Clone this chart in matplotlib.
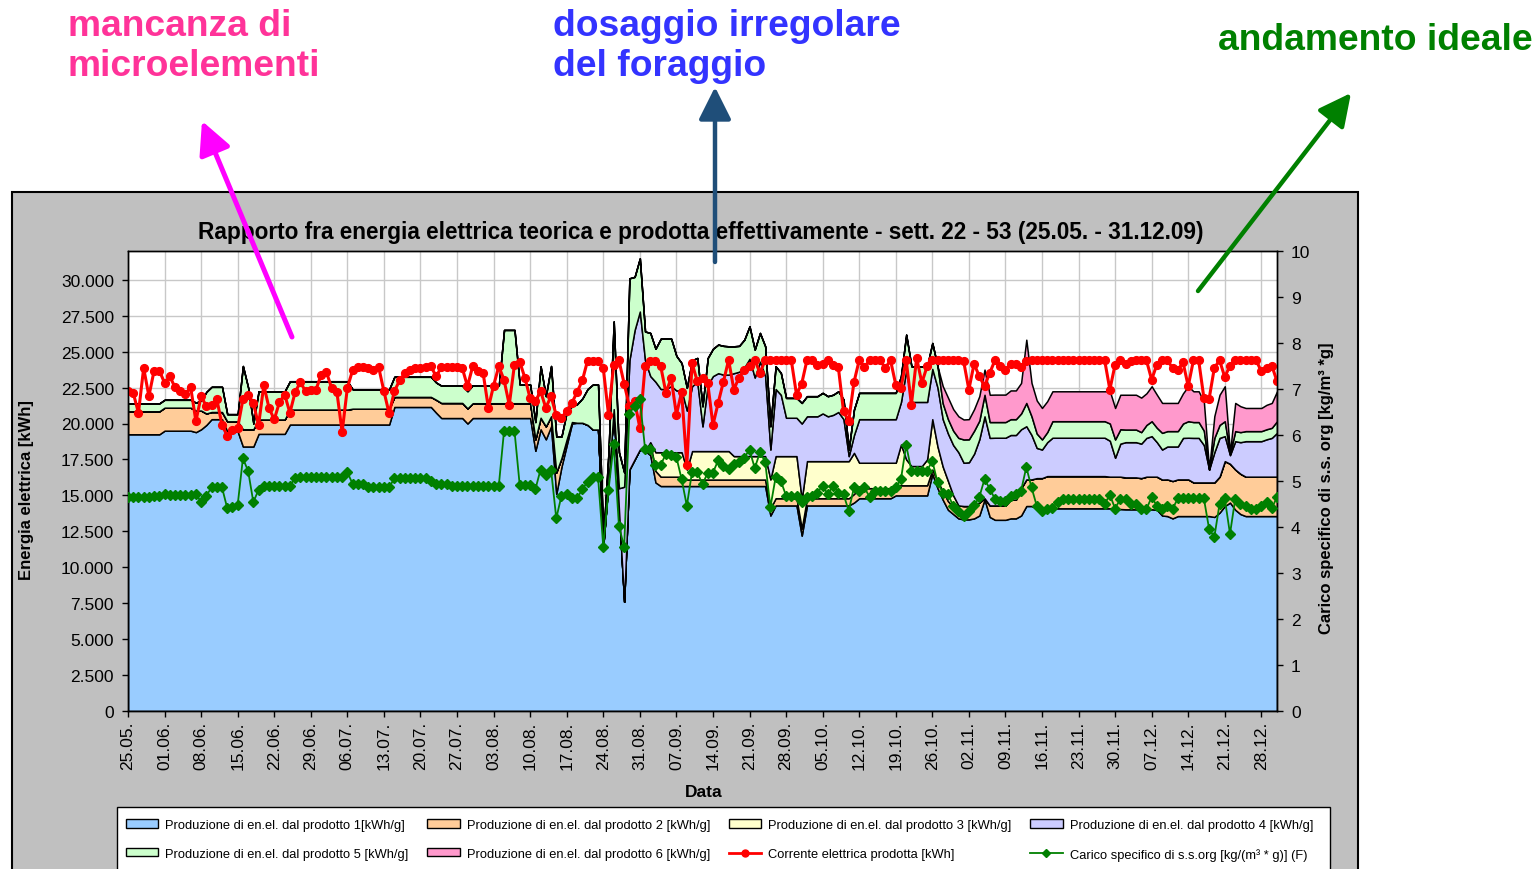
import numpy as np
import pandas as pd
import matplotlib
matplotlib.use("Agg")
import matplotlib.pyplot as plt
import matplotlib.dates as mdates
from matplotlib.patches import Rectangle, Patch, FancyArrowPatch
from matplotlib.lines import Line2D
from matplotlib.ticker import FuncFormatter

plt.rcParams['font.family'] = ['Liberation Sans', 'DejaVu Sans']

# ---------------- data (daily, 25.05.2009 - 31.12.2009) ----------------
start_date = "2009-05-25"
end_date = "2009-12-31"

prod1 = [19250, 19250, 19250, 19250, 19250, 19250, 19250, 19500, 19500, 19500, 19500, 19500, 19500, 19400, 19600, 19900, 20300, 20300, 20300, 19450,
         19450, 19450, 18400, 18400, 18400, 19280, 19280, 19280, 19280, 19280, 19280, 19930, 19930, 19930, 19930, 19930, 19930, 19930, 19930, 19930,
         19930, 19930, 19930, 19930, 19930, 19930, 19930, 19930, 19930, 19930, 19930, 21150, 21150, 21150, 21150, 21150, 21150, 21150, 21150, 20750,
         20380, 20380, 20380, 20380, 20380, 20000, 20380, 20380, 20380, 20380, 20380, 20380, 20380, 20380, 20380, 20380, 20380, 20380, 18100, 19600,
         18900, 19800, 15100, 17000, 18500, 20000, 20050, 20050, 19900, 19580, 19580, 11500, 16000, 21000, 14000, 7600, 16800, 17500, 18190, 18100,
         17800, 15900, 15650, 15650, 15650, 15650, 15650, 15650, 15650, 15650, 15650, 15650, 15650, 15650, 15650, 15650, 15650, 15650, 15650, 15650,
         15650, 15650, 15650, 13600, 14300, 14300, 14300, 14300, 14300, 12200, 14300, 14300, 14300, 14300, 14300, 14300, 14300, 14300, 14300, 14500,
         14800, 14800, 14800, 14800, 14800, 14800, 14800, 15000, 15000, 15000, 15000, 15000, 15000, 15000, 16500, 15500, 14700, 14000, 13700, 13400,
         13330, 13330, 13400, 13600, 14720, 13500, 13300, 13300, 13300, 13400, 13400, 13600, 14260, 14260, 14100, 14030, 14100, 14100, 14100, 14100,
         14100, 14100, 14100, 14100, 14100, 14100, 14100, 14100, 14100, 14000, 14050, 14030, 14030, 14030, 13900, 14000, 14030, 14000, 13600, 13560,
         13400, 13560, 13560, 13560, 13560, 13560, 13560, 13560, 13500, 13800, 14260, 14500, 14000, 13700, 13560, 13560, 13560, 13560, 13560, 13560,
         13560]

prod2 = [1600, 1600, 1600, 1600, 1600, 1600, 1600, 1600, 1600, 1600, 1600, 1600, 1600, 1500, 1300, 800, 500, 500, 500, 700,
         700, 700, 1200, 1200, 1200, 1000, 1000, 1000, 1000, 1000, 1000, 1040, 1040, 1040, 1040, 1040, 1040, 1040, 1040, 1040,
         1040, 1040, 1040, 1100, 1100, 1100, 1100, 1100, 1100, 1100, 1100, 700, 700, 700, 700, 700, 700, 700, 700, 900,
         1050, 1050, 1050, 1050, 1050, 1050, 1030, 1030, 1030, 1030, 1030, 1030, 1030, 1030, 1030, 1030, 1030, 1030, 800, 800,
         900, 700, 1500, 600, 400, 100, 0, 0, 0, 0, 0, 0, 0, 0, 0, 0, 0, 0, 0, 0,
         900, 800, 650, 650, 650, 650, 650, 450, 450, 450, 450, 450, 450, 450, 450, 450, 450, 450, 450, 450,
         450, 450, 450, 500, 500, 500, 500, 500, 500, 500, 500, 500, 500, 500, 500, 500, 500, 500, 500, 600,
         700, 700, 700, 700, 700, 700, 700, 700, 700, 700, 700, 700, 700, 700, 300, 500, 600, 600, 500, 900,
         930, 930, 900, 900, 80, 800, 1000, 1000, 1000, 1300, 1300, 1900, 1850, 1850, 2100, 2170, 2240, 2240, 2240, 2240,
         2240, 2240, 2240, 2240, 2240, 2240, 2240, 2240, 2200, 2300, 2250, 2220, 2220, 2220, 2300, 2300, 2270, 2300, 2500, 2550,
         2600, 2550, 2550, 2550, 2340, 2340, 2340, 2340, 2400, 2500, 3120, 2700, 2800, 2800, 2740, 2740, 2740, 2740, 2740, 2740,
         2740]

prod3 = [0, 0, 0, 0, 0, 0, 0, 0, 0, 0, 0, 0, 0, 0, 0, 0, 0, 0, 0, 0,
         0, 0, 0, 0, 0, 0, 0, 0, 0, 0, 0, 0, 0, 0, 0, 0, 0, 0, 0, 0,
         0, 0, 0, 0, 0, 0, 0, 0, 0, 0, 0, 0, 0, 0, 0, 0, 0, 0, 0, 0,
         0, 0, 0, 0, 0, 0, 0, 0, 0, 0, 0, 0, 0, 0, 0, 0, 0, 0, 0, 0,
         0, 0, 0, 0, 0, 0, 0, 0, 0, 0, 0, 0, 0, 0, 0, 0, 0, 0, 0, 0,
         0, 1300, 1700, 1700, 1700, 1700, 1700, 700, 1980, 1980, 1980, 1980, 1980, 1980, 1980, 1980, 1630, 1630, 1630, 1630,
         1630, 1630, 1630, 2010, 2930, 2930, 2930, 2930, 2930, 2020, 2580, 2580, 2580, 2580, 2580, 2580, 2580, 2580, 2580, 2860,
         1770, 1770, 1770, 1770, 1770, 1770, 1770, 1570, 2840, 1800, 1340, 1340, 1340, 1800, 3500, 2400, 1700, 1400, 800, 0,
         0, 0, 0, 0, 0, 0, 0, 0, 0, 0, 0, 0, 0, 0, 0, 0, 0, 0, 0, 0,
         0, 0, 0, 0, 0, 0, 0, 0, 0, 0, 0, 0, 0, 0, 0, 0, 0, 0, 0, 0,
         0, 0, 0, 0, 0, 0, 0, 0, 0, 0, 0, 0, 0, 0, 0, 0, 0, 0, 0, 0,
         0]

prod4 = [0, 0, 0, 0, 0, 0, 0, 0, 0, 0, 0, 0, 0, 0, 0, 0, 0, 0, 0, 0,
         0, 0, 0, 0, 0, 0, 0, 0, 0, 0, 0, 0, 0, 0, 0, 0, 0, 0, 0, 0,
         0, 0, 0, 0, 0, 0, 0, 0, 0, 0, 0, 0, 0, 0, 0, 0, 0, 0, 0, 0,
         0, 0, 0, 0, 0, 0, 0, 0, 0, 0, 0, 0, 0, 0, 0, 0, 0, 0, 0, 0,
         0, 0, 0, 0, 0, 0, 0, 0, 0, 0, 0, 0, 0, 0, 1500, 8000, 7600, 9000, 9600, 6300,
         4600, 4900, 4400, 4400, 4600, 4300, 4300, 4100, 4520, 4820, 1720, 4620, 5220, 5420, 5320, 5320, 5770, 5870, 6170, 6770,
         5470, 6570, 5570, 2080, 4670, 4270, 2670, 2670, 2670, 5280, 3120, 3120, 3120, 3320, 3120, 3220, 3420, 2920, 350, 1240,
         3030, 3030, 3030, 3030, 3030, 3030, 3030, 3030, 2960, 6200, 4460, 4460, 4460, 4000, 3500, 4100, 3300, 3300, 3500, 3700,
         3010, 3040, 3600, 4400, 5700, 4700, 4710, 4710, 4710, 4500, 4500, 4100, 3700, 3090, 2100, 1990, 2360, 2670, 2670, 2670,
         2670, 2670, 2670, 2670, 2670, 2670, 2670, 2670, 2500, 1320, 2300, 2450, 2450, 2450, 2400, 2700, 2820, 2400, 2090, 2290,
         2400, 2290, 2890, 2900, 3100, 3100, 2600, 900, 2100, 2700, 1740, 600, 1970, 2200, 2470, 2470, 2470, 2470, 2600, 2700,
         3050]

prod5 = [550, 550, 550, 550, 550, 550, 550, 550, 550, 550, 550, 550, 550, 550, 700, 1500, 1750, 1750, 1750, 500,
         500, 500, 4400, 2900, 400, 1960, 1960, 1960, 1960, 1960, 1960, 1970, 1970, 1970, 1970, 1970, 1970, 1970, 1970, 1970,
         1970, 1970, 1970, 1350, 1350, 1350, 1350, 1350, 1350, 1350, 1350, 1400, 1400, 1400, 1400, 1400, 1400, 1400, 1400, 1200,
         1200, 1200, 1200, 1200, 1200, 1200, 1250, 1250, 1250, 1250, 1250, 1250, 5100, 5100, 5100, 1300, 1300, 1300, 1200, 3580,
         2100, 3500, 2500, 1500, 1900, 1100, 1300, 1700, 2500, 3130, 3130, 500, 2000, 6100, 2500, 1000, 5700, 3700, 3700, 2000,
         3000, 2300, 3500, 3500, 3300, 2400, 1900, 1580, 1800, 1660, 1400, 1860, 1900, 1990, 2000, 1970, 1870, 1800, 1930, 2260,
         1940, 2000, 2070, 1620, 1580, 1520, 1380, 1380, 1380, 1430, 1400, 1400, 1400, 1430, 1400, 1400, 1440, 1370, 460, 1770,
         1830, 1830, 1830, 1830, 1830, 1830, 1830, 1830, 1800, 2480, 2480, 2480, 2480, 2480, 1800, 1480, 1100, 1000, 1000, 1000,
         1620, 1600, 1600, 1300, 1500, 1100, 1090, 1090, 1090, 1100, 1100, 1100, 1620, 1300, 1000, 700, 700, 1150, 1150, 1150,
         1150, 1150, 1150, 1150, 1150, 1150, 1150, 1150, 1200, 1270, 1000, 880, 880, 880, 800, 900, 1040, 1000, 1160, 1070,
         1070, 1070, 1000, 1150, 1100, 1100, 1000, 0, 1000, 900, 1040, 100, 700, 700, 700, 700, 700, 700, 700, 700,
         810]

prod6 = [0, 0, 0, 0, 0, 0, 0, 0, 0, 0, 0, 0, 0, 0, 0, 0, 0, 0, 0, 0,
         0, 0, 0, 0, 0, 0, 0, 0, 0, 0, 0, 0, 0, 0, 0, 0, 0, 0, 0, 0,
         0, 0, 0, 0, 0, 0, 0, 0, 0, 0, 0, 0, 0, 0, 0, 0, 0, 0, 0, 0,
         0, 0, 0, 0, 0, 0, 0, 0, 0, 0, 0, 0, 0, 0, 0, 0, 0, 0, 0, 0,
         0, 0, 0, 0, 0, 0, 0, 0, 0, 0, 0, 0, 0, 0, 0, 0, 0, 0, 0, 0,
         0, 0, 0, 0, 0, 0, 0, 0, 0, 0, 0, 0, 0, 0, 0, 0, 0, 0, 0, 0,
         0, 0, 0, 0, 0, 0, 0, 0, 0, 0, 0, 0, 0, 0, 0, 0, 0, 0, 0, 0,
         0, 0, 0, 0, 0, 0, 0, 0, 0, 0, 0, 0, 0, 0, 0, 0, 1200, 1500, 1500, 1500,
         1390, 1400, 1500, 1700, 1750, 1900, 1910, 1910, 1910, 2000, 2000, 2120, 4400, 2320, 2300, 2190, 2150, 2080, 2080, 2080,
         2080, 2080, 2080, 2080, 2080, 2080, 2080, 2080, 2240, 2190, 2400, 2420, 2420, 2420, 2400, 2200, 2430, 2300, 2080, 1960,
         1960, 1960, 2100, 2430, 2140, 2140, 2000, 0, 1510, 2100, 2430, 60, 1960, 1800, 1610, 1610, 1610, 1610, 1700, 1730,
         2080]

corrente = [22240, 22130, 20740, 23860, 21900, 23680, 23680, 22820, 23280, 22520,
            22240, 22060, 22520, 20160, 21900, 21200, 21270, 21710, 19880, 19160,
            19580, 19700, 21670, 22010, 21430, 19880, 22660, 21080, 20280, 21480,
            22010, 20740, 22180, 22870, 22240, 22360, 22360, 23400, 23560, 22470,
            22180, 19400, 22470, 23700, 23910, 23910, 23860, 23700, 23910, 22240,
            20700, 22240, 23000, 23480, 23750, 23860, 23860, 23910, 23980, 23280,
            23910, 23910, 23910, 23910, 23860, 22590, 23980, 23630, 23500, 21090,
            22640, 23980, 23030, 21300, 24100, 24300, 23170, 21750, 21550, 22240,
            21090, 21900, 20570, 20390, 20880, 21430, 22200, 23000, 24380, 24380,
            24380, 23860, 20620, 24100, 24390, 22770, 21200, 21550, 19700, 23980,
            24370, 24370, 23980, 22130, 23170, 20620, 22180, 17120, 24190, 22940,
            23170, 22820, 19900, 21430, 22900, 24420, 22360, 23200, 23750, 24030,
            24440, 23520, 24400, 24400, 24400, 24400, 24400, 24400, 22010, 22780,
            24400, 24400, 24100, 24170, 24400, 24100, 23940, 20850, 20160, 22870,
            24400, 23910, 24400, 24400, 24400, 23860, 24400, 22710, 22480, 24400,
            21310, 24560, 22820, 23980, 24400, 24400, 24400, 24400, 24400, 24400,
            24330, 22360, 24150, 23280, 22590, 23520, 24400, 23980, 23700, 24170,
            24170, 23940, 24330, 24400, 24400, 24400, 24400, 24400, 24400, 24400,
            24400, 24400, 24400, 24400, 24400, 24400, 24400, 24400, 22360, 24100,
            24400, 24170, 24330, 24400, 24400, 24400, 23050, 24100, 24400, 24400,
            23860, 23700, 24270, 22590, 24400, 24400, 21780, 21710, 23860, 24400,
            23230, 24030, 24400, 24400, 24400, 24400, 24400, 23630, 23860, 24030,
            22940]

carico = [4.66, 4.66, 4.66, 4.66, 4.66, 4.68, 4.68, 4.72, 4.70, 4.70,
          4.70, 4.70, 4.70, 4.72, 4.54, 4.68, 4.86, 4.86, 4.86, 4.41,
          4.43, 4.48, 5.49, 5.22, 4.54, 4.81, 4.90, 4.90, 4.90, 4.90,
          4.90, 4.90, 5.06, 5.08, 5.08, 5.08, 5.08, 5.08, 5.08, 5.08,
          5.08, 5.08, 5.19, 4.94, 4.94, 4.94, 4.86, 4.86, 4.86, 4.86,
          4.86, 5.06, 5.06, 5.06, 5.06, 5.06, 5.06, 5.06, 5.00, 4.93,
          4.93, 4.93, 4.90, 4.90, 4.90, 4.90, 4.90, 4.90, 4.90, 4.90,
          4.90, 4.90, 6.09, 6.09, 6.09, 4.91, 4.91, 4.91, 4.82, 5.25,
          5.14, 5.25, 4.19, 4.68, 4.72, 4.64, 4.62, 4.83, 4.98, 5.09,
          5.09, 3.57, 4.80, 5.80, 4.03, 3.56, 6.46, 6.64, 6.79, 5.70,
          5.70, 5.35, 5.35, 5.59, 5.57, 5.52, 5.04, 4.46, 5.20, 5.19,
          4.93, 5.18, 5.18, 5.45, 5.33, 5.26, 5.38, 5.42, 5.51, 5.68,
          5.28, 5.62, 5.42, 4.43, 5.08, 5.00, 4.68, 4.68, 4.68, 4.54,
          4.65, 4.68, 4.75, 4.90, 4.71, 4.90, 4.75, 4.71, 4.35, 4.86,
          4.79, 4.86, 4.65, 4.79, 4.79, 4.79, 4.79, 4.86, 5.04, 5.78,
          5.22, 5.22, 5.22, 5.22, 5.44, 4.97, 4.75, 4.71, 4.46, 4.35,
          4.24, 4.35, 4.47, 4.65, 5.04, 4.83, 4.61, 4.57, 4.57, 4.68,
          4.71, 4.79, 5.30, 4.86, 4.46, 4.35, 4.40, 4.42, 4.54, 4.61,
          4.61, 4.61, 4.61, 4.61, 4.61, 4.61, 4.61, 4.50, 4.70, 4.40,
          4.61, 4.61, 4.50, 4.50, 4.39, 4.39, 4.65, 4.46, 4.39, 4.45,
          4.39, 4.62, 4.62, 4.62, 4.62, 4.62, 4.62, 3.96, 3.78, 4.50,
          4.62, 3.85, 4.61, 4.50, 4.46, 4.39, 4.39, 4.46, 4.54, 4.41,
          4.65]

area_labels = ["Produzione di en.el. dal prodotto 1[kWh/g]",
               "Produzione di en.el. dal prodotto 2 [kWh/g]",
               "Produzione di en.el. dal prodotto 3 [kWh/g]",
               "Produzione di en.el. dal prodotto 4 [kWh/g]",
               "Produzione di en.el. dal prodotto 5 [kWh/g]",
               "Produzione di en.el. dal prodotto 6 [kWh/g]"]
red_label = "Corrente elettrica prodotta [kWh]"
green_label = "Carico specifico di s.s.org [kg/(m\u00b3 * g)] (F)"
title = "Rapporto fra energia elettrica teorica e prodotta effettivamente - sett. 22 - 53 (25.05. - 31.12.09)"

# ---------------- figure ----------------
W, H = 1539, 870
def fx(px):
    return px / W
def fy(py):
    return 1 - py / H

dates = pd.date_range(start_date, end_date, freq="D")
series = [prod1, prod2, prod3, prod4, prod5, prod6]
for s in series + [corrente, carico]:
    assert len(s) == len(dates), len(s)

area_colors = ["#99CCFF", "#FFCC99", "#FFFFCC", "#CCCCFF", "#CCFFCC", "#FF99CC"]

fig = plt.figure(figsize=(W / 100, H / 100), dpi=100)
fig.patch.set_facecolor("white")

# chart area (grey)
fig.add_artist(Rectangle((fx(12), -0.01), fx(1358) - fx(12), fy(193) + 0.01,
                         transform=fig.transFigure, facecolor="#C0C0C0",
                         edgecolor="black", lw=1.5, zorder=-5))
# legend box
fig.add_artist(Rectangle((fx(117), -0.01), fx(1330) - fx(117), fy(808) + 0.01,
                         transform=fig.transFigure, facecolor="white",
                         edgecolor="black", lw=1.0, zorder=-4))

ax = fig.add_axes([fx(128), fy(712), fx(1277) - fx(128), fy(252) - fy(712)])
ax.set_facecolor("white")
ax.stackplot(dates, *series, colors=area_colors, edgecolor="black", linewidth=1.1, zorder=2)
ax.plot(dates, corrente, color="#FF0000", lw=2.2, marker="o", ms=5.6,
        markeredgecolor="#FF0000", zorder=5)

ax.set_xlim(dates[0], dates[-1])
ax.set_ylim(0, 32000)
ax.set_yticks(np.arange(0, 30001, 2500))
ax.yaxis.set_major_formatter(FuncFormatter(lambda v, p: f"{v:,.0f}".replace(",", ".")))
week_ticks = pd.date_range(start_date, end_date, freq="7D")
ax.set_xticks(week_ticks)
ax.xaxis.set_major_formatter(mdates.DateFormatter("%d.%m."))
ax.tick_params(axis="x", rotation=90, labelsize=12.5, length=4, width=1, direction="out", pad=3)
ax.tick_params(axis="y", labelsize=12.5, length=4, width=1, direction="out", pad=6)
ax.grid(True, color="#C8C8C8", lw=1.0)
ax.set_axisbelow(True)
for sp in ax.spines.values():
    sp.set_color("black")
    sp.set_linewidth(1.0)

ax2 = ax.twinx()
ax2.plot(dates, carico, color="#008000", lw=1.3, marker="D", ms=5.0,
         markeredgecolor="#008000", zorder=6)
ax2.set_ylim(0, 10)
ax2.set_yticks(np.arange(0, 11, 1))
ax2.tick_params(axis="y", labelsize=12.5, length=4, width=1, direction="out", pad=6)
for sp in ax2.spines.values():
    sp.set_color("black")
    sp.set_linewidth(1.0)

# titles / labels
fig.text(fx(701), fy(233), title, ha="center", va="center", fontsize=16.3, fontweight="bold")
fig.text(fx(27), fy(490), "Energia elettrica [kWh]", rotation=90, ha="center", va="center",
         fontsize=12, fontweight="bold")
fig.text(fx(1327), fy(488), "Carico specifico di s.s. org [kg/m\u00b3 *g]", rotation=90,
         ha="center", va="center", fontsize=12, fontweight="bold")
fig.text(fx(704), fy(793), "Data", ha="center", va="center", fontsize=12.5, fontweight="bold")

# legend (row-major order with ncol=4 -> reorder for column filling)
patch_h = [Patch(facecolor=c, edgecolor="black", lw=1.0) for c in area_colors]
red_h = Line2D([], [], color="#FF0000", lw=2, marker="o", ms=5)
green_h = Line2D([], [], color="#008000", lw=1.3, marker="D", ms=4.5)
handles = [patch_h[0], patch_h[4], patch_h[1], patch_h[5], patch_h[2], red_h, patch_h[3], green_h]
labels = [area_labels[0], area_labels[4], area_labels[1], area_labels[5], area_labels[2], red_label,
          area_labels[3], green_label]
fig.legend(handles, labels, ncol=4, loc="upper left", bbox_to_anchor=(fx(117), fy(811)),
           frameon=False, fontsize=9.3, handlelength=2.5, handleheight=0.6, handletextpad=0.55,
           columnspacing=1.45, labelspacing=1.3, borderpad=0.2)

# annotations
fig.text(fx(68), fy(9), "mancanza di\nmicroelementi", ha="left", va="top", fontsize=26.8,
         fontweight="bold", color="#FF3399", linespacing=1.18)
fig.text(fx(553), fy(9), "dosaggio irregolare\ndel foraggio", ha="left", va="top", fontsize=26.8,
         fontweight="bold", color="#3333FF", linespacing=1.18)
fig.text(fx(1218), fy(23), "andamento ideale", ha="left", va="top", fontsize=26.8,
         fontweight="bold", color="#008000")

def arrow(x0, y0, x1, y1, color, lw):
    a = FancyArrowPatch((fx(x0), fy(y0)), (fx(x1), fy(y1)), transform=fig.transFigure,
                        arrowstyle="-|>,head_length=0.9,head_width=0.45", mutation_scale=22,
                        color=color, lw=lw, zorder=20, shrinkA=0, shrinkB=0)
    fig.add_artist(a)

arrow(292, 338, 202, 122, "#FF00FF", 3.6)
arrow(715, 263, 715, 88, "#1F4E79", 3.2)
arrow(1198, 292, 1351, 94, "#008000", 3.2)

fig.savefig("out.png", dpi=100)
